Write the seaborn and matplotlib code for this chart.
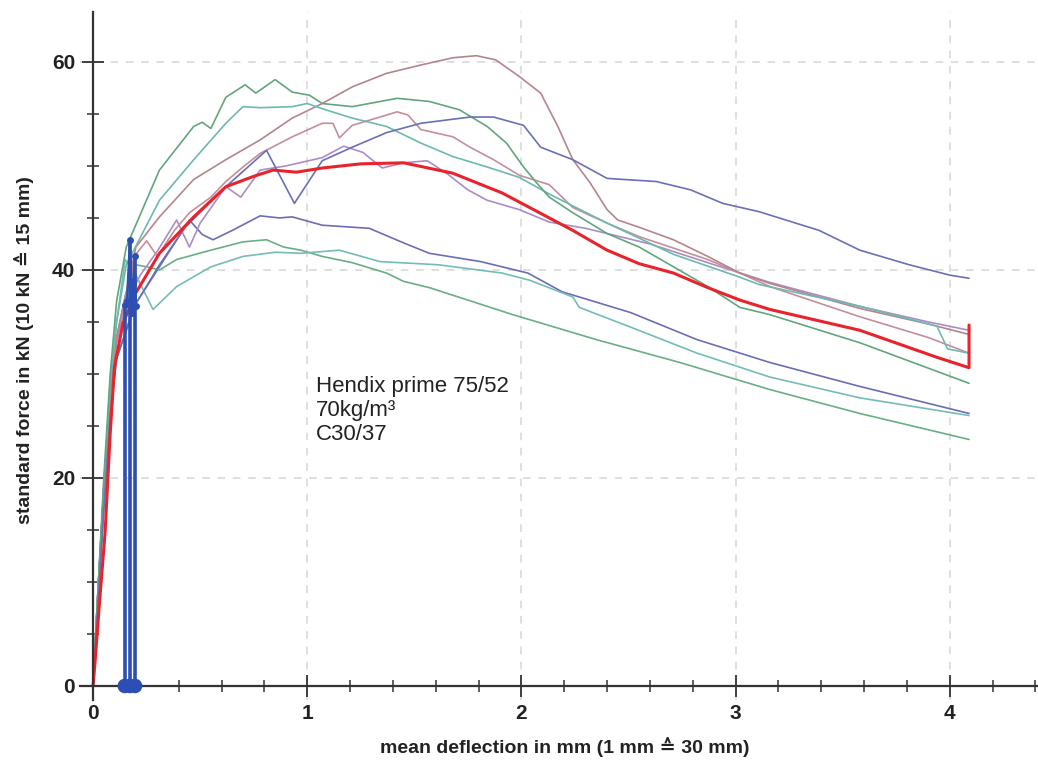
import matplotlib
matplotlib.use("Agg")
import matplotlib.pyplot as plt
import seaborn as sns
import pandas as pd
from matplotlib.ticker import MultipleLocator

# ---------------- data ----------------
green_a_x = [0, 0.02, 0.05, 0.08, 0.11, 0.155, 0.31, 0.47, 0.51, 0.55, 0.62, 0.71, 0.76, 0.85, 0.93, 1.01, 1.07, 1.21, 1.42, 1.57, 1.71, 1.84, 1.93, 2.01, 2.07, 2.13, 2.24, 2.40, 2.55, 2.71, 2.87, 3.02, 3.16, 3.58, 4.09]
green_a_y = [0, 8, 20, 30, 37, 42.2, 49.6, 53.8, 54.2, 53.6, 56.6, 57.8, 57.0, 58.3, 57.1, 56.8, 56.0, 55.7, 56.5, 56.2, 55.4, 53.8, 52.2, 49.9, 48.4, 47.0, 45.5, 43.5, 42.2, 40.3, 38.4, 36.4, 35.7, 33.0, 29.1]

teal_b_x = [0, 0.02, 0.05, 0.08, 0.11, 0.155, 0.31, 0.47, 0.62, 0.70, 0.78, 0.93, 1.0, 1.07, 1.21, 1.37, 1.53, 1.68, 1.84, 1.99, 2.13, 2.40, 2.71, 3.02, 3.11, 3.58, 3.94, 3.99, 4.09]
teal_b_y = [0, 8, 19, 29, 35, 40.5, 46.7, 50.6, 54.1, 55.7, 55.6, 55.7, 56.0, 55.5, 54.6, 53.8, 52.2, 50.9, 49.9, 48.9, 47.3, 44.5, 41.5, 39.3, 38.6, 36.5, 34.6, 32.4, 32.0]

rosy_c_x = [0, 0.02, 0.05, 0.08, 0.11, 0.2, 0.31, 0.47, 0.62, 0.78, 0.93, 1.07, 1.21, 1.37, 1.53, 1.68, 1.79, 1.88, 1.99, 2.09, 2.17, 2.24, 2.32, 2.40, 2.45, 2.55, 2.71, 2.87, 3.02, 3.16, 3.58, 3.90, 4.09]
rosy_c_y = [0, 8, 19, 28, 33.5, 42.2, 45.1, 48.7, 50.6, 52.5, 54.6, 56.0, 57.6, 58.9, 59.7, 60.4, 60.6, 60.2, 58.6, 57.0, 53.8, 50.6, 48.4, 45.8, 44.8, 44.1, 42.9, 41.3, 39.7, 38.7, 36.3, 34.8, 33.8]

rosy_d_x = [0, 0.02, 0.05, 0.08, 0.11, 0.2, 0.25, 0.3, 0.38, 0.45, 0.55, 0.62, 0.7, 0.78, 0.93, 1.07, 1.12, 1.15, 1.21, 1.42, 1.47, 1.53, 1.68, 1.76, 1.87, 1.99, 2.13, 2.24, 2.40, 2.55, 2.71, 2.87, 3.02, 3.16, 3.58, 3.90, 4.09]
rosy_d_y = [0, 8, 19, 28, 33.5, 41.5, 42.8, 41.3, 43.8, 45.5, 47.0, 48.5, 49.9, 51.2, 52.8, 54.1, 54.1, 52.7, 53.9, 55.2, 54.9, 53.5, 52.8, 51.8, 50.6, 49.1, 48.2, 46.0, 44.5, 43.2, 42.1, 41.0, 39.7, 38.4, 35.5, 33.5, 32.0]

blue_e_x = [0, 0.02, 0.05, 0.08, 0.11, 0.19, 0.31, 0.43, 0.62, 0.81, 0.94, 1.07, 1.21, 1.37, 1.53, 1.76, 1.87, 2.01, 2.09, 2.24, 2.40, 2.63, 2.79, 2.94, 3.11, 3.39, 3.58, 3.81, 4.0, 4.09]
blue_e_y = [0, 7, 17, 26, 31.5, 36.4, 40.5, 44.1, 48.0, 51.5, 46.4, 50.5, 51.8, 53.2, 54.1, 54.7, 54.7, 53.9, 51.8, 50.6, 48.8, 48.5, 47.7, 46.4, 45.6, 43.8, 41.9, 40.5, 39.5, 39.2]

purple_f_x = [0, 0.02, 0.05, 0.08, 0.11, 0.15, 0.22, 0.3, 0.39, 0.45, 0.5, 0.62, 0.69, 0.78, 0.9, 1.07, 1.17, 1.26, 1.35, 1.45, 1.56, 1.65, 1.75, 1.84, 1.99, 2.13, 2.30, 2.60, 2.90, 3.16, 3.58, 3.90, 4.09]
purple_f_y = [0, 8, 19, 28, 33, 36.5, 39.5, 41.8, 44.8, 42.2, 44.5, 48.0, 47.0, 49.6, 50.0, 50.8, 51.9, 51.3, 49.8, 50.3, 50.5, 49.3, 47.7, 46.7, 45.8, 44.6, 44.0, 42.5, 40.5, 38.8, 36.5, 35.0, 34.2]

blue_h_x = [0, 0.02, 0.05, 0.08, 0.11, 0.2, 0.31, 0.45, 0.51, 0.56, 0.65, 0.78, 0.87, 0.93, 1.07, 1.29, 1.45, 1.57, 1.81, 2.03, 2.19, 2.51, 2.82, 3.16, 3.58, 4.09]
blue_h_y = [0, 7, 17, 26, 31.5, 36.8, 40.3, 44.8, 43.4, 42.9, 43.8, 45.2, 45.0, 45.1, 44.3, 44.0, 42.6, 41.6, 40.8, 39.7, 37.9, 35.9, 33.3, 31.1, 28.8, 26.2]

green_i_x = [0, 0.02, 0.05, 0.08, 0.11, 0.15, 0.2, 0.25, 0.31, 0.39, 0.55, 0.7, 0.81, 0.89, 0.97, 1.07, 1.21, 1.37, 1.45, 1.57, 1.96, 2.35, 2.74, 3.16, 3.58, 4.09]
green_i_y = [0, 8, 19, 28, 33.5, 37.5, 40.5, 40.3, 40.0, 41.0, 41.9, 42.7, 42.9, 42.2, 41.9, 41.3, 40.7, 39.7, 38.9, 38.3, 35.7, 33.3, 31.1, 28.5, 26.2, 23.7]

teal_j_x = [0, 0.02, 0.05, 0.08, 0.11, 0.15, 0.2, 0.28, 0.39, 0.55, 0.7, 0.85, 0.97, 1.15, 1.34, 1.61, 1.91, 2.04, 2.24, 2.27, 2.51, 2.82, 3.16, 3.58, 4.09]
teal_j_y = [0, 8, 19, 29, 35, 41.0, 39.5, 36.2, 38.4, 40.3, 41.3, 41.7, 41.6, 41.9, 40.8, 40.5, 39.7, 39.0, 37.4, 36.4, 34.5, 32.0, 29.7, 27.7, 26.0]

mean_x = [0, 0.01, 0.03, 0.056, 0.08, 0.10, 0.14, 0.2, 0.31, 0.47, 0.62, 0.75, 0.84, 0.95, 1.07, 1.25, 1.45, 1.68, 1.91, 2.13, 2.24, 2.40, 2.55, 2.71, 2.87, 3.02, 3.16, 3.58, 3.94, 4.09, 4.09]
mean_y = [0, 2.5, 8, 14.7, 24.3, 30.7, 34.9, 37.8, 41.6, 45.1, 48.0, 49.0, 49.6, 49.4, 49.8, 50.2, 50.3, 49.3, 47.4, 45.0, 43.8, 41.9, 40.6, 39.7, 38.3, 37.1, 36.2, 34.2, 31.6, 30.6, 34.7]

stem_x = [0.148, 0.172, 0.196]
stem_top = [36.6, 42.9, 41.3]
stem_path_x = [0.148, 0.158, 0.172, 0.18, 0.183, 0.196, 0.2]
stem_path_y = [36.6, 37.0, 42.9, 38.9, 35.9, 41.3, 36.5]

x_ticks = [0, 1, 2, 3, 4]
y_ticks = [0, 20, 40, 60]
x_label = "mean deflection in mm (1 mm \u2259 30 mm)"
y_label = "standard force in kN (10 kN \u2259 15 mm)"
note = "Hendix prime 75/52\n70kg/m\u00b3\nC30/37"

# ---------------- drawing ----------------
sns.set_theme(style="white")
plt.rcParams["font.family"] = ["Liberation Sans", "DejaVu Sans"]

fig = plt.figure(figsize=(10.38, 7.64), dpi=100)
ax = fig.add_axes([80 / 1038, 64 / 764, 958 / 1038, 688 / 764])

thin = [
    (blue_h_x, blue_h_y, "#6d6db4"),
    (green_i_x, green_i_y, "#6aae84"),
    (teal_j_x, teal_j_y, "#74bcb6"),
    (purple_f_x, purple_f_y, "#ab8cc6"),
    (rosy_d_x, rosy_d_y, "#c48e9b"),
    (rosy_c_x, rosy_c_y, "#b5858b"),
    (teal_b_x, teal_b_y, "#6db9b1"),
    (green_a_x, green_a_y, "#61a67c"),
    (blue_e_x, blue_e_y, "#6a70b6"),
]
for xs, ys, col in thin:
    df = pd.DataFrame({"x": xs, "y": ys})
    sns.lineplot(data=df, x="x", y="y", ax=ax, color=col, lw=1.2,
                 sort=False, estimator=None)

df_mean = pd.DataFrame({"x": mean_x, "y": mean_y})
sns.lineplot(data=df_mean, x="x", y="y", ax=ax, color="#e8232b", lw=2.2,
             sort=False, estimator=None)

# blue stems at the start
ax.vlines(stem_x, 0, stem_top, colors="#2d4fb3", lw=2.6, zorder=5)
df_path = pd.DataFrame({"x": stem_path_x, "y": stem_path_y})
sns.lineplot(data=df_path, x="x", y="y", ax=ax, color="#2d4fb3", lw=1.6,
             sort=False, estimator=None, marker="o", markersize=5,
             markeredgewidth=0, zorder=6)
sns.scatterplot(x=stem_x, y=[0] * len(stem_x), ax=ax, color="#2d4fb3", s=110,
                edgecolor="none", zorder=6, clip_on=False)

ax.text(1.04, 26.5, note, fontsize=16, ha="left", va="center",
        linespacing=1.2, color="#222222")

# axes styling
ax.set_xlim(-0.061, 4.412)
ax.set_ylim(-1.35, 64.8)
ax.spines["left"].set_position(("data", 0))
ax.spines["bottom"].set_position(("data", 0))
for s in ("top", "right"):
    ax.spines[s].set_visible(False)
for s in ("left", "bottom"):
    ax.spines[s].set_color("#333333")
    ax.spines[s].set_linewidth(1.6)

ax.set_xticks(x_ticks)
ax.set_yticks(y_ticks)
ax.xaxis.set_minor_locator(MultipleLocator(0.2))
ax.yaxis.set_minor_locator(MultipleLocator(5))
ax.tick_params(which="major", direction="inout", length=16, width=1.3,
               color="#333333", labelsize=15, labelcolor="#222222", pad=5)
ax.tick_params(which="minor", direction="inout", length=8, width=1.1,
               color="#333333")
ax.tick_params(axis="x", which="both", bottom=True)
ax.tick_params(axis="y", which="both", left=True)
for lab in ax.get_xticklabels() + ax.get_yticklabels():
    lab.set_fontweight("bold")

ax.grid(True, which="major", color="#d6d6d6", lw=1.1, ls=(0, (5, 5)))
ax.set_axisbelow(True)

ax.set_xlabel(x_label, fontsize=14, fontweight="bold", color="#222222")
ax.set_ylabel(y_label, fontsize=14, fontweight="bold", color="#222222")
ax.xaxis.set_label_coords(0.506, -0.054)
ax.yaxis.set_label_coords(-0.048, 0.509)

fig.savefig("out.png", dpi=100)
